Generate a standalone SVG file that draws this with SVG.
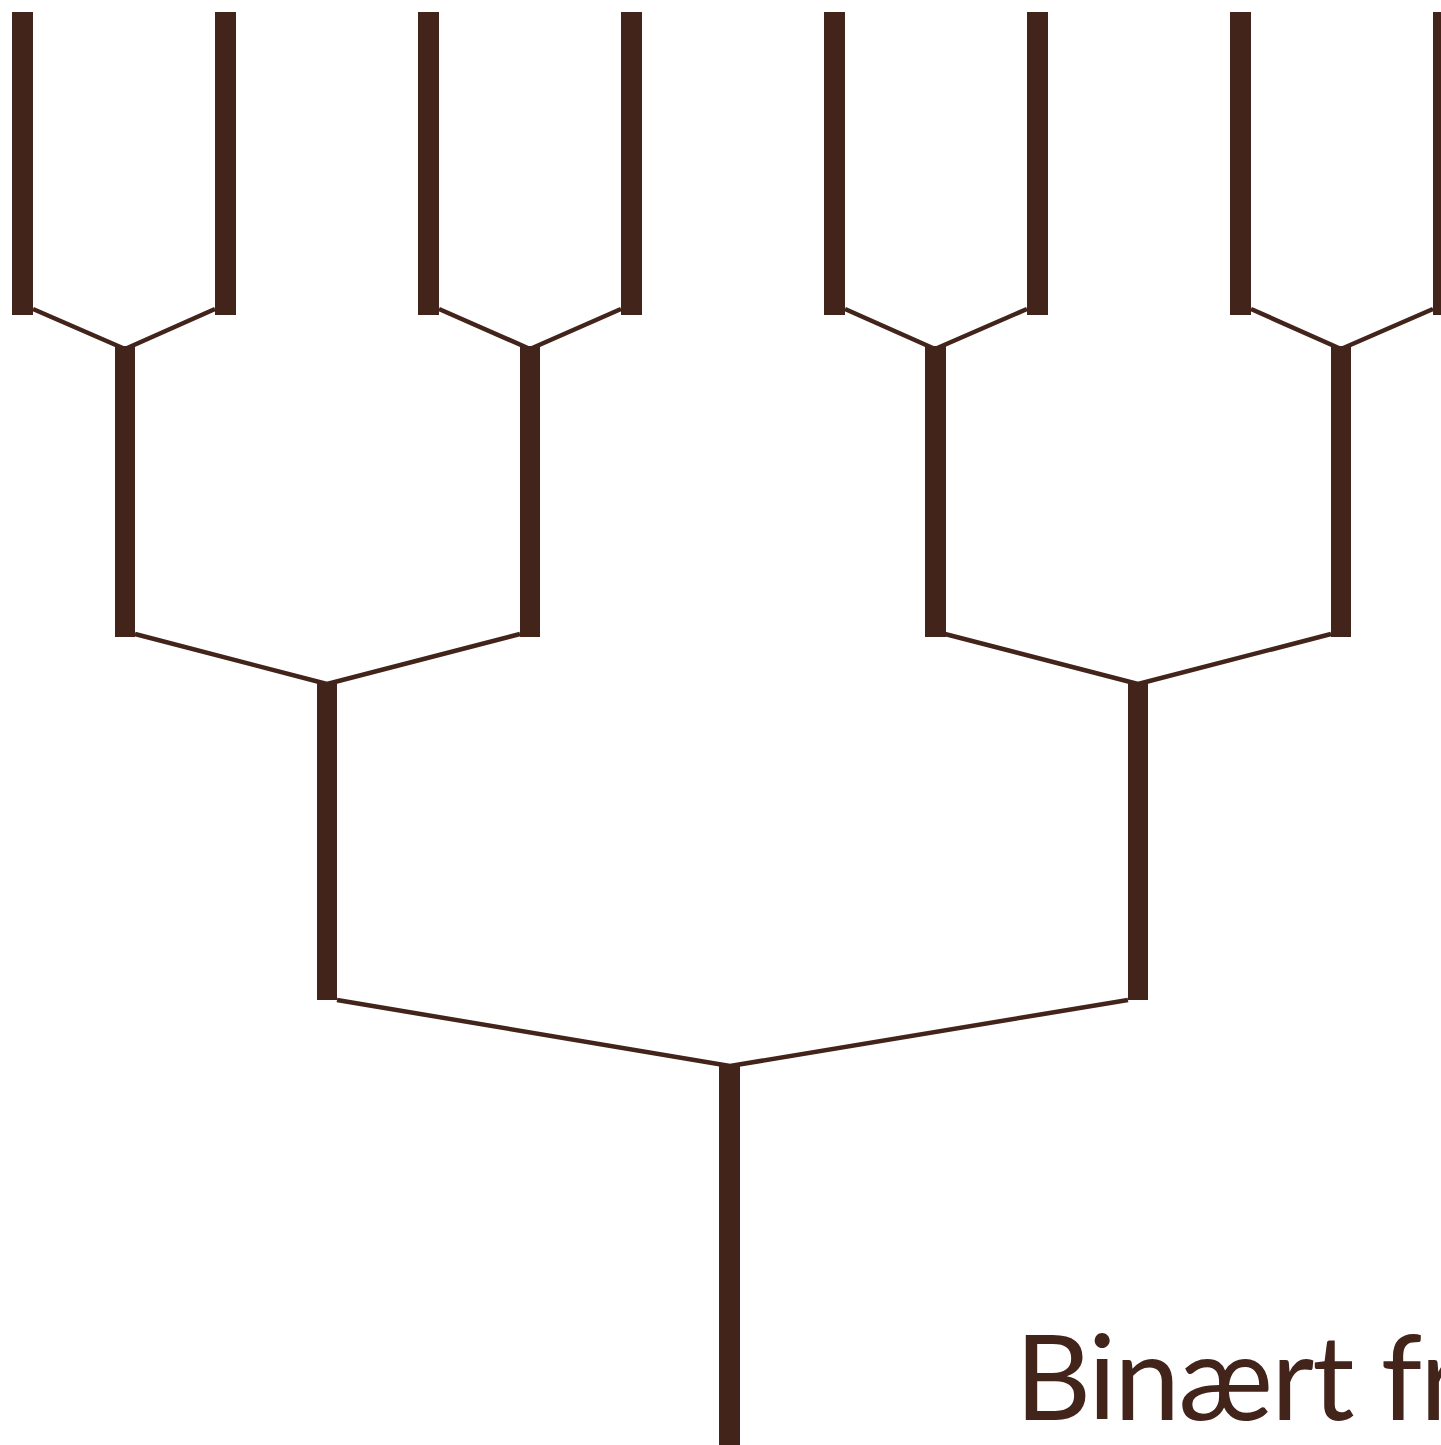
<svg xmlns="http://www.w3.org/2000/svg" width="1441" height="1445" viewBox="0 0 1441 1445">
<style>
.b{fill:#42241b}
.c{stroke:#42241b;stroke-width:4.5;fill:none}
.t{font-family:Lato,"Open Sans",sans-serif;font-size:118px;letter-spacing:-2px;fill:#42241b}
</style>
<rect width="1441" height="1445" fill="#fff"/>
<g id="connectors">
<path class="c" d="M33 309L125 349M215 309L125 349M439 309L530 349M621 309L530 349M845 309L935 349M1027 309L935 349M1251 309L1341 349M1433 309L1341 349"/>
<path class="c" d="M135 634L327 684M520 634L327 684M945 634L1138 684M1331 634L1138 684"/>
<path class="c" d="M337 1000L730 1066M1128 1000L730 1066"/>
</g>
<g id="leaves">
<rect id="l1" class="b" x="12" y="12" width="21" height="303"/>
<rect id="l2" class="b" x="215" y="12" width="21" height="303"/>
<rect id="l3" class="b" x="418" y="12" width="21" height="303"/>
<rect id="l4" class="b" x="621" y="12" width="21" height="303"/>
<rect id="l5" class="b" x="824" y="12" width="21" height="303"/>
<rect id="l6" class="b" x="1027" y="12" width="21" height="303"/>
<rect id="l7" class="b" x="1230" y="12" width="21" height="303"/>
<rect id="l8" class="b" x="1433" y="12" width="21" height="303"/>
</g>
<g id="level2">
<rect id="n1" class="b" x="115" y="346" width="20" height="291"/>
<rect id="n2" class="b" x="520" y="346" width="20" height="291"/>
<rect id="n3" class="b" x="925" y="346" width="21" height="291"/>
<rect id="n4" class="b" x="1331" y="346" width="20" height="291"/>
</g>
<g id="level3">
<rect id="m1" class="b" x="317" y="682" width="20" height="318"/>
<rect id="m2" class="b" x="1128" y="682" width="20" height="318"/>
</g>
<g id="root">
<rect id="r" class="b" x="719" y="1065" width="21" height="380"/>
</g>
<text class="t" x="1015" y="1420">Binært fr</text>
</svg>
